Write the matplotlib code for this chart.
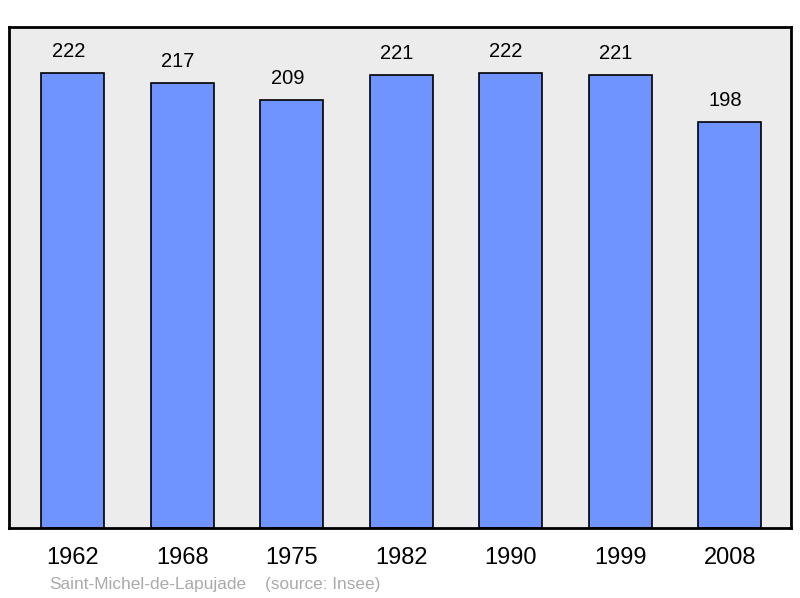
import matplotlib
matplotlib.use("Agg")
import matplotlib.pyplot as plt

years = ["1962", "1968", "1975", "1982", "1990", "1999", "2008"]
population = [222, 217, 209, 221, 222, 221, 198]
commune = "Saint-Michel-de-Lapujade"
source = "(source: Insee)"

plt.rcParams['font.family'] = ['Liberation Sans', 'DejaVu Sans']

fig = plt.figure(figsize=(8, 5.98), dpi=100)
ax = fig.add_axes([9/800, 70/598, 782/800, 501/598])
ax.set_facecolor('#ececec')
x = list(range(len(years)))
ax.bar(x, population, width=0.575, color='#7094ff', edgecolor='black', linewidth=1.2, zorder=2)
for xi, v in zip(x, population):
    ax.text(xi - 0.042, v + 10.4, str(v), ha='center', va='center', fontsize=14.5, color='black')
ax.set_xlim(-0.584, 6.56)
ax.set_ylim(0, 244.4)
ax.set_yticks([])
ax.set_xticks(x)
ax.set_xticklabels(years, fontsize=17)
ax.tick_params(axis='x', length=0, pad=14)
for s in ax.spines.values():
    s.set_linewidth(2)
    s.set_color('black')
fig.text(49/800, 1 - 584/598, commune, fontsize=12.4, color='#aaaaaa', va='center', ha='left')
fig.text(265/800, 1 - 584/598, source, fontsize=12.4, color='#aaaaaa', va='center', ha='left')
fig.savefig('out.png', dpi=100)
